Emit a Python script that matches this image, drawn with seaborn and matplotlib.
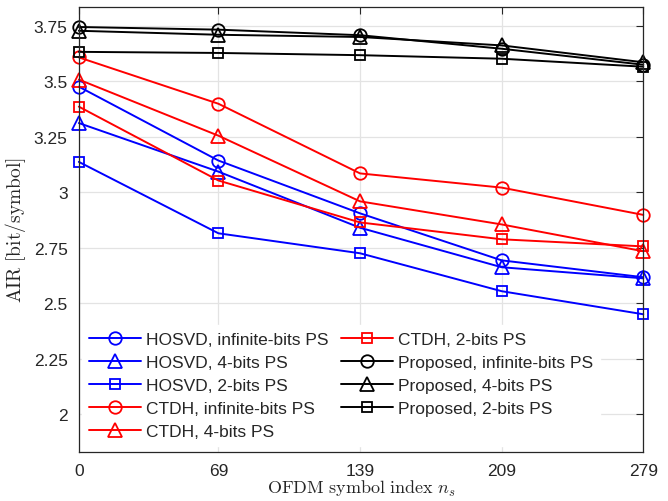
import matplotlib
matplotlib.use("Agg")
import matplotlib.pyplot as plt
import seaborn as sns
import pandas as pd

x_idx = [0, 69, 139, 209, 279]
x_ticks = [0, 69, 139, 209, 279]
y_ticks = [2, 2.25, 2.5, 2.75, 3, 3.25, 3.5, 3.75]
y_tick_labels = ["2", "2.25", "2.5", "2.75", "3", "3.25", "3.5", "3.75"]

hosvd_inf = [3.476, 3.143, 2.905, 2.693, 2.617]
hosvd_4 = [3.312, 3.093, 2.840, 2.662, 2.612]
hosvd_2 = [3.137, 2.815, 2.725, 2.554, 2.450]
ctdh_inf = [3.608, 3.399, 3.085, 3.021, 2.898]
ctdh_4 = [3.508, 3.255, 2.959, 2.855, 2.734]
ctdh_2 = [3.386, 3.053, 2.864, 2.788, 2.756]
prop_inf = [3.745, 3.733, 3.708, 3.647, 3.575]
prop_4 = [3.728, 3.710, 3.700, 3.662, 3.586]
prop_2 = [3.633, 3.628, 3.618, 3.602, 3.566]

labels = ["HOSVD, infinite-bits PS", "HOSVD, 4-bits PS", "HOSVD, 2-bits PS",
          "CTDH, infinite-bits PS", "CTDH, 4-bits PS", "CTDH, 2-bits PS",
          "Proposed, infinite-bits PS", "Proposed, 4-bits PS", "Proposed, 2-bits PS"]
series = [hosvd_inf, hosvd_4, hosvd_2, ctdh_inf, ctdh_4, ctdh_2, prop_inf, prop_4, prop_2]
colors = ["#0000ff"] * 3 + ["#ff0000"] * 3 + ["#000000"] * 3
markers = ["o", "^", "s"] * 3
msizes = [9, 10, 7] * 3

sns.set_style("white")
plt.rcParams["font.family"] = ["Liberation Sans", "DejaVu Sans"]
plt.rcParams["mathtext.fontset"] = "cm"

fig = plt.figure(figsize=(6.68, 5.02), dpi=100)
ax = fig.add_axes([0.118, 0.098, 0.845, 0.886])

for lab, vals, c, m, ms in zip(labels, series, colors, markers, msizes):
    df = pd.DataFrame({"x": x_idx, "y": vals})
    sns.lineplot(data=df, x="x", y="y", ax=ax, color=c, marker=m, markersize=ms,
                 markerfacecolor="none", markeredgecolor=c, markeredgewidth=1.3,
                 linewidth=1.4, label=lab, clip_on=False)

ax.set_xlim(0, 279)
ax.set_ylim(1.83, 3.835)
ax.set_xticks(x_ticks)
ax.set_xticklabels([str(t) for t in x_ticks], fontsize=12.5)
ax.set_yticks(y_ticks)
ax.set_yticklabels(y_tick_labels, fontsize=12.5)
ax.grid(True, color="#e3e3e3", linewidth=0.9)
ax.set_axisbelow(True)
ax.tick_params(direction="in", top=True, right=True, length=5, color="#262626", pad=8)
for sp in ax.spines.values():
    sp.set_color("#262626")
    sp.set_linewidth(0.9)
    sp.set_visible(True)

ax.set_xlabel(r"$\mathrm{OFDM\ symbol\ index}\ n_s$", fontsize=13, labelpad=0)
ax.set_ylabel(r"$\mathrm{AIR\ [bit/symbol]}$", fontsize=14, labelpad=4)

leg = ax.legend(loc="lower left", bbox_to_anchor=(-0.004, 0.002), ncol=2, fontsize=12.5,
                handlelength=3.0, handletextpad=0.3, columnspacing=0.7,
                labelspacing=0.45, frameon=True, borderaxespad=0.3)
leg.get_frame().set_edgecolor("white")
leg.get_frame().set_facecolor("white")
leg.get_frame().set_alpha(1.0)
leg.set_zorder(5)

fig.savefig("out.png", dpi=100)
